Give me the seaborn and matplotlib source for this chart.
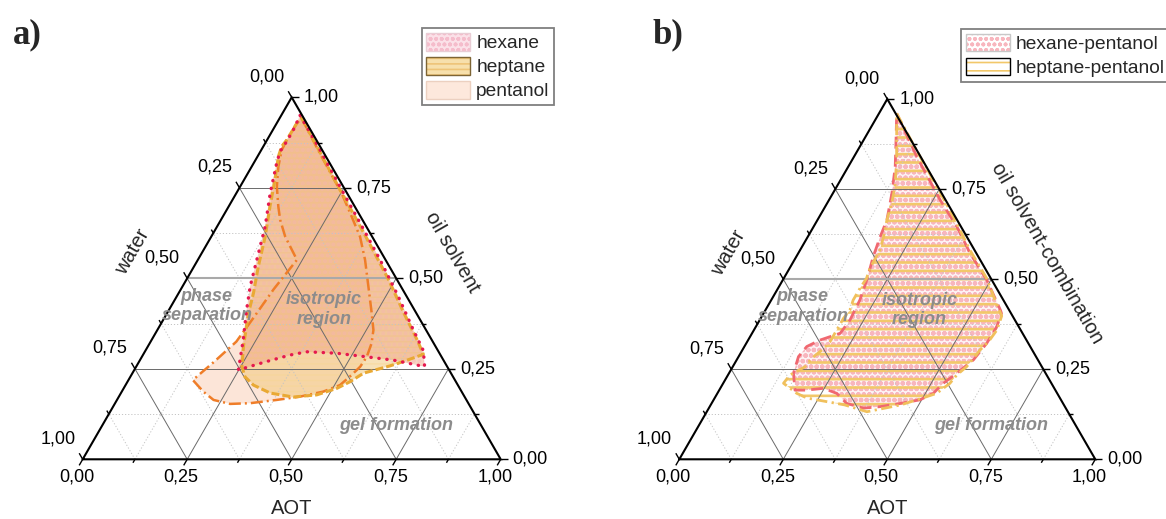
import numpy as np
import pandas as pd
import matplotlib
matplotlib.use("Agg")
import matplotlib.pyplot as plt
from matplotlib.patches import Polygon, Patch
import seaborn as sns

# ------------------------------------------------------------------
# Data (ternary mass fractions; water = 1 - AOT - oil)
# ------------------------------------------------------------------
tick_values = [0.0, 0.25, 0.5, 0.75, 1.0]
tick_labels = ["0,00", "0,25", "0,50", "0,75", "1,00"]
minor_values = [0.125, 0.375, 0.625, 0.875]

# panel a) single oil solvents
hexane_aot = [0.045, 0.145, 0.242, 0.34, 0.437, 0.53, 0.61, 0.665, 0.69, 0.606, 0.538,
              0.461, 0.387, 0.352, 0.302, 0.249, 0.219, 0.186, 0.162, 0.141, 0.115,
              0.081, 0.055, 0.047, 0.049, 0.049]
hexane_oil = [0.95, 0.85, 0.75, 0.65, 0.55, 0.45, 0.36, 0.30, 0.256, 0.274, 0.283,
              0.293, 0.297, 0.288, 0.269, 0.247, 0.33, 0.412, 0.477, 0.551, 0.643,
              0.735, 0.818, 0.85, 0.877, 0.91]

heptane_aot = [0.053, 0.142, 0.238, 0.365, 0.48, 0.57, 0.635, 0.67, 0.632, 0.606, 0.553,
               0.532, 0.510, 0.471, 0.418, 0.357, 0.306, 0.274, 0.253, 0.229, 0.195,
               0.179, 0.154, 0.129, 0.099, 0.074, 0.050, 0.044, 0.047, 0.048]
heptane_oil = [0.942, 0.85, 0.75, 0.62, 0.5, 0.4, 0.33, 0.29, 0.270, 0.258, 0.238,
               0.214, 0.196, 0.178, 0.172, 0.183, 0.205, 0.228, 0.256, 0.311, 0.403,
               0.459, 0.532, 0.615, 0.698, 0.772, 0.836, 0.864, 0.882, 0.928]

pentanol_aot = [0.05, 0.145, 0.252, 0.300, 0.356, 0.400, 0.445, 0.490, 0.517, 0.531,
                0.538, 0.536, 0.527, 0.513, 0.482, 0.433, 0.382, 0.323, 0.276, 0.231,
                0.195, 0.154, 0.180, 0.205, 0.213, 0.222, 0.237, 0.177, 0.142, 0.119,
                0.088, 0.064, 0.049, 0.047, 0.048]
pentanol_oil = [0.945, 0.845, 0.735, 0.680, 0.615, 0.551, 0.477, 0.403, 0.357, 0.320,
                0.283, 0.256, 0.233, 0.205, 0.187, 0.173, 0.164, 0.155, 0.153, 0.164,
                0.187, 0.219, 0.270, 0.325, 0.390, 0.470, 0.551, 0.615, 0.661, 0.698,
                0.753, 0.808, 0.854, 0.882, 0.928]

# panel b) oil solvent combinations
hexpent_aot = [0.0425, 0.151, 0.267, 0.345, 0.413, 0.491, 0.565, 0.572, 0.579, 0.578,
               0.569, 0.548, 0.529, 0.519, 0.496, 0.453, 0.409, 0.372, 0.325, 0.287,
               0.248, 0.210, 0.182, 0.155, 0.144, 0.150, 0.173, 0.212, 0.217, 0.213,
               0.202, 0.185, 0.174, 0.167, 0.142, 0.113, 0.078]
hexpent_oil = [0.960, 0.84, 0.72, 0.645, 0.572, 0.497, 0.414, 0.405, 0.368, 0.322,
               0.276, 0.239, 0.211, 0.183, 0.165, 0.155, 0.146, 0.142, 0.155, 0.183,
               0.197, 0.192, 0.192, 0.239, 0.285, 0.313, 0.331, 0.350, 0.387, 0.442,
               0.498, 0.562, 0.618, 0.664, 0.738, 0.812, 0.886]

heptpent_aot = [0.0425, 0.140, 0.242, 0.331, 0.408, 0.488, 0.538, 0.576, 0.584, 0.580,
                0.571, 0.567, 0.562, 0.550, 0.545, 0.527, 0.508, 0.457, 0.385, 0.322,
                0.222, 0.191, 0.145, 0.149, 0.174, 0.178, 0.191, 0.199, 0.199, 0.199,
                0.203, 0.197, 0.197, 0.199, 0.193, 0.192, 0.182, 0.167, 0.155, 0.140,
                0.107]
heptpent_oil = [0.960, 0.859, 0.756, 0.664, 0.581, 0.502, 0.442, 0.398, 0.359, 0.326,
                0.303, 0.280, 0.257, 0.234, 0.211, 0.183, 0.174, 0.151, 0.132, 0.151,
                0.170, 0.183, 0.211, 0.234, 0.257, 0.280, 0.303, 0.326, 0.359, 0.391,
                0.414, 0.442, 0.475, 0.502, 0.531, 0.581, 0.618, 0.664, 0.711, 0.757,
                0.831]

# region annotations (AOT, oil)
region_labels = ["phase\nseparation", "isotropic\nregion", "gel formation"]
region_aot = [0.085, 0.370, 0.702]
region_oil = [0.424, 0.4145, 0.0947]

# ------------------------------------------------------------------
sns.set_theme(style="white")
plt.rcParams["font.family"] = ["Liberation Sans", "DejaVu Sans"]
plt.rcParams["hatch.linewidth"] = 1.2

SQ3 = np.sqrt(3) / 2.0
PX_TO_PT = 0.72
TICK_FS = 13
TITLE_FS = 14.5


def to_xy(aot, oil):
    aot = np.asarray(aot, float)
    oil = np.asarray(oil, float)
    return aot + oil / 2.0, oil * SQ3


def region_frame(aot, oil):
    df = pd.DataFrame({"AOT": aot, "oil": oil})
    df["water"] = 1.0 - df["AOT"] - df["oil"]
    df["X"], df["Y"] = to_xy(df["AOT"], df["oil"])
    return df


def set_hlw(p, lw):
    if hasattr(p, "set_hatch_linewidth"):
        p.set_hatch_linewidth(lw)


def fill_region(ax, df, face, hatch=None, hatch_color="none", hlw=1.2, z=1):
    p = Polygon(np.column_stack([df["X"], df["Y"]]), closed=True,
                facecolor=face, edgecolor=hatch_color, hatch=hatch, lw=0, zorder=z)
    set_hlw(p, hlw)
    ax.add_patch(p)
    return p


def outline_region(ax, df, color, lw, ls, cap="butt", z=4):
    x = np.append(df["X"].values, df["X"].values[0])
    y = np.append(df["Y"].values, df["Y"].values[0])
    sns.lineplot(x=x, y=y, sort=False, estimator=None, ax=ax, color=color,
                 linewidth=lw, linestyle=ls, dash_capstyle=cap, zorder=z, legend=False)


def draw_frame(ax, side_px, right_title):
    # grid
    for v in minor_values + tick_values[1:-1]:
        major = v in tick_values
        if major:
            col, lw, ls = "#6a6a6a", 0.7, "-"
        else:
            col, lw, ls = "#c4c4c4", 0.7, (0, (1.2, 2.0))
        lines = [
            ([0.0, 1 - v], [v, v]),            # constant oil
            ([v, v], [0.0, 1 - v]),            # constant AOT
            ([1 - v, 0.0], [0.0, 1 - v]),      # constant water
        ]
        for k, (aa, oo) in enumerate(lines):
            x, y = to_xy(aa, oo)
            c, w = col, lw
            if major and k == 0 and v == 0.5:
                c, w = "#a9a9a9", 1.5
            ax.plot(x, y, color=c, lw=w, ls=ls, zorder=3, solid_capstyle="butt")
    # triangle
    x, y = to_xy([0, 1, 0, 0], [0, 0, 1, 0])
    ax.plot(x, y, color="black", lw=1.5, zorder=6, solid_joinstyle="miter")

    # ticks
    dirs = {"bottom": (-0.5, -SQ3), "left": (-0.5, SQ3), "right": (1.0, 0.0)}

    def point(axis, v):
        if axis == "bottom":
            return to_xy(v, 0.0)
        if axis == "left":
            return to_xy(0.0, 1.0 - v)
        return to_xy(1.0 - v, v)

    for axis, (dx, dy) in dirs.items():
        for v in tick_values + minor_values:
            L = (7.0 if v in tick_values else 4.0) / side_px
            px, py = point(axis, v)
            ax.plot([px, px + dx * L], [py, py + dy * L], color="black", lw=1.0,
                    zorder=6, solid_capstyle="butt")
        for v, lab in zip(tick_values, tick_labels):
            px, py = point(axis, v)
            if axis == "bottom":
                off, ha = (-6 * PX_TO_PT, -18 * PX_TO_PT), "center"
            elif axis == "left":
                off, ha = (-25 * PX_TO_PT, 20.5 * PX_TO_PT), "center"
            else:
                off, ha = (12 * PX_TO_PT, 0.0), "left"
            ax.annotate(lab, xy=(float(px), float(py)), xytext=off,
                        textcoords="offset points", ha=ha, va="center",
                        fontsize=TICK_FS, color="black", annotation_clip=False)
    # axis titles
    ax.text(0.5, -0.118, "AOT", ha="center", va="center", fontsize=TITLE_FS)
    ax.text(0.1196, 0.4967, "water", ha="center", va="center", fontsize=TITLE_FS,
            rotation=60, rotation_mode="anchor")
    ax.text(0.885, 0.495, right_title, ha="center", va="center", fontsize=TITLE_FS,
            rotation=-60, rotation_mode="anchor")
    # region annotations
    rx, ry = to_xy(region_aot, region_oil)
    for lab, x0, y0 in zip(region_labels, rx, ry):
        ax.text(x0, y0, lab, ha="center", va="center", fontsize=13,
                color="#8c8c8c", fontweight="bold", fontstyle="italic",
                linespacing=1.2, zorder=7)


W, H = 1166, 519
fig = plt.figure(figsize=(W / 100, H / 100), dpi=100)

panels = [
    dict(rect=[0, 0, 0.5, 1], x0=82.7, y0=459.3, side=418.0, px0=0.0),
    dict(rect=[0.5, 0, 0.5, 1], x0=679.3, y0=459.3, side=416.0, px0=583.0),
]
axes = []
for p in panels:
    ax = fig.add_axes(p["rect"])
    s = p["side"]
    ax.set_xlim((p["px0"] - p["x0"]) / s, (p["px0"] + 583.0 - p["x0"]) / s)
    ax.set_ylim((p["y0"] - H) / s, p["y0"] / s)
    ax.set_aspect("auto")
    axes.append(ax)

axA, axB = axes

# ---------------- panel a ----------------
df_pent = region_frame(pentanol_aot, pentanol_oil)
df_hept = region_frame(heptane_aot, heptane_oil)
df_hex = region_frame(hexane_aot, hexane_oil)

fill_region(axA, df_pent, (0.980, 0.835, 0.745, 0.60), z=1.0)
fill_region(axA, df_hept, (0.950, 0.790, 0.495, 0.55), hatch="---",
            hatch_color=(0.97, 0.84, 0.58, 0.55), hlw=1.0, z=1.1)
fill_region(axA, df_hex, (0.935, 0.640, 0.480, 0.45), hatch="ooo",
            hatch_color=(0.96, 0.70, 0.70, 0.35), hlw=1.0, z=1.2)

outline_region(axA, df_pent, "#ef7d28", 1.8, (0, (4.8, 1.6, 0.8, 1.6)))
outline_region(axA, df_hept, "#e9a934", 2.2, (0, (2.6, 1.0)))
outline_region(axA, df_hex, "#e5194f", 2.4, (0, (0.1, 2.3)), cap="round", z=4.2)

draw_frame(axA, 418.0, "oil solvent")

# ---------------- panel b ----------------
df_hp = region_frame(hexpent_aot, hexpent_oil)
df_gp = region_frame(heptpent_aot, heptpent_oil)

fill_region(axB, df_hp, (0.99, 0.91, 0.92, 0.55), hatch="ooo",
            hatch_color="#f8b6be", hlw=1.6, z=1.0)
fill_region(axB, df_gp, "none", hatch="--", hatch_color="#f2c86a", hlw=1.9, z=1.1)

outline_region(axB, df_hp, "#f06870", 2.0, (0, (4.3, 2.2)))
outline_region(axB, df_gp, "#f0c05c", 2.0, (0, (4.0, 1.6, 0.8, 1.6)))

draw_frame(axB, 416.0, "oil solvent-combination")

for ax in axes:
    ax.axis("off")

# ---------------- legends ----------------
def leg_handle(face, hatch=None, hcol="none", border="#c8c8c8", hlw=1.0):
    p1 = Patch(facecolor=face, edgecolor=hcol, hatch=hatch, lw=0)
    set_hlw(p1, hlw)
    p2 = Patch(facecolor="none", edgecolor=border, lw=1.0)
    return (p1, p2)


leg_kw = dict(loc="upper left", bbox_transform=fig.transFigure, frameon=True,
              fancybox=False, framealpha=1, fontsize=13.8, handlelength=2.3,
              handleheight=1.05, handletextpad=0.3, labelspacing=0.24,
              borderpad=0.24, borderaxespad=0.0)

hA = [leg_handle("#fbe1e8", "ooo", "#f5bccb", "#e9cdd5"),
      leg_handle("#f7e0ac", "---", "#eec478", "#7d6535"),
      leg_handle("#fde8dc", None, "none", "#ecd0c0")]
legA = axA.legend(hA, ["hexane", "heptane", "pentanol"],
                  bbox_to_anchor=(421.7 / W, 1 - 28.3 / H), **leg_kw)
legA.get_frame().set_edgecolor("#7f7f7f")
legA.get_frame().set_linewidth(1.3)

hB = [leg_handle("white", "ooo", "#f8b6be", "#c8c8c8", 1.5),
      leg_handle("white", "--", "#f2c86a", "black", 2.0)]
legB = axB.legend(hB, ["hexane-pentanol", "heptane-pentanol"],
                  bbox_to_anchor=(961.0 / W, 1 - 29.0 / H), **leg_kw)
legB.get_frame().set_edgecolor("#7f7f7f")
legB.get_frame().set_linewidth(1.3)

# panel letters
fig.text(27 / W, 1 - 35 / H, "a)", ha="center", va="center", fontsize=25,
         fontweight="bold", family=["Liberation Serif", "DejaVu Serif"])
fig.text(668 / W, 1 - 35 / H, "b)", ha="center", va="center", fontsize=25,
         fontweight="bold", family=["Liberation Serif", "DejaVu Serif"])

fig.savefig("out.png", dpi=100)
